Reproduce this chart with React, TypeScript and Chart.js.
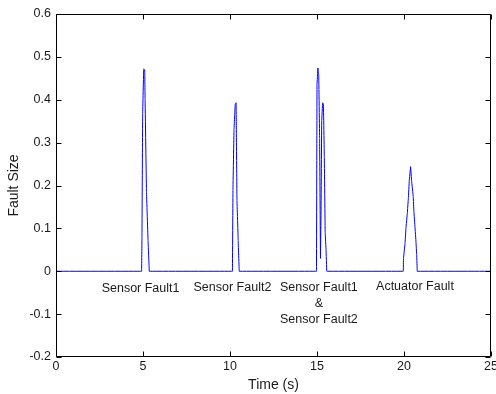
import React, { useEffect, useRef } from "react";
import { Chart, registerables } from "chart.js";

Chart.register(...registerables);

// Time axis (s) and fault size samples
const faultTimes = [
  0,
  4.92, 4.94, 4.98, 5.04, 5.1, 5.12, 5.2, 5.29, 5.36,
  10.14, 10.17, 10.23, 10.3, 10.35, 10.4, 10.47, 10.53,
  14.97, 15.0, 15.05, 15.1, 15.15, 15.2, 15.23, 15.27, 15.32, 15.37, 15.42, 15.47, 15.52, 15.56,
  19.96, 19.97, 20.06, 20.11, 20.19, 20.25, 20.3, 20.38, 20.44, 20.53, 20.57, 20.63, 20.69, 20.73, 20.76,
  25,
];
const faultSize = [
  0,
  0, 0.078, 0.368, 0.472, 0.47, 0.4, 0.184, 0.072, 0,
  0, 0.19, 0.33, 0.39, 0.393, 0.166, 0.072, 0,
  0, 0.435, 0.474, 0.458, 0.31, 0.03, 0.13, 0.35, 0.393, 0.39, 0.267, 0.09, 0.05, 0,
  0, 0.03, 0.065, 0.1, 0.135, 0.17, 0.21, 0.244, 0.21, 0.174, 0.139, 0.104, 0.068, 0.037, 0,
  0,
];

const xTicks = [0, 5, 10, 15, 20, 25];
const yTicks = [-0.2, -0.1, 0, 0.1, 0.2, 0.3, 0.4, 0.5, 0.6];

// Fault annotations: text lines and anchor (data units)
const annotationLines = [
  ["Sensor Fault1"],
  ["Sensor Fault2"],
  ["Sensor Fault1", "&", "Sensor Fault2"],
  ["Actuator Fault"],
];
const annotationX = [4.86, 10.14, 15.11, 20.63];
const annotationY = [-0.04, -0.038, -0.038, -0.035];

const FONT = "'Liberation Sans', Arial, Helvetica, sans-serif";

const framePlugin = {
  id: "matlabFrame",
  afterDraw(chart: any) {
    const { ctx, chartArea, scales } = chart;
    const { left, right, top, bottom } = chartArea;
    const xs = scales.x;
    const ys = scales.y;
    ctx.save();
    // annotations
    ctx.fillStyle = "#1a1a1a";
    ctx.font = `12.5px ${FONT}`;
    ctx.textAlign = "center";
    ctx.textBaseline = "middle";
    annotationLines.forEach((lines, i) => {
      const px = xs.getPixelForValue(annotationX[i]);
      const py = ys.getPixelForValue(annotationY[i]);
      lines.forEach((t, j) => ctx.fillText(t, px, py + j * 16));
    });
    // box
    ctx.strokeStyle = "#000";
    ctx.lineWidth = 1;
    const L = Math.round(left) + 0.5;
    const R = Math.round(right) - 0.5;
    const T = Math.round(top) + 0.5;
    const B = Math.round(bottom) - 0.5;
    ctx.beginPath();
    ctx.rect(L, T, R - L, B - T);
    // inside ticks
    const tl = 5;
    xTicks.forEach((v) => {
      const p = Math.round(xs.getPixelForValue(v)) + 0.5;
      ctx.moveTo(p, B);
      ctx.lineTo(p, B - tl);
      ctx.moveTo(p, T);
      ctx.lineTo(p, T + tl);
    });
    yTicks.forEach((v) => {
      const p = Math.round(ys.getPixelForValue(v)) + 0.5;
      ctx.moveTo(L, p);
      ctx.lineTo(L + tl, p);
      ctx.moveTo(R, p);
      ctx.lineTo(R - tl, p);
    });
    ctx.stroke();
    ctx.restore();
  },
};

export default function App() {
  const ref = useRef<HTMLCanvasElement | null>(null);
  useEffect(() => {
    document.body.style.margin = "0";
    const canvas = ref.current;
    if (!canvas) return;
    const points = faultTimes.map((t, i) => ({ x: t, y: faultSize[i] }));
    const chart = new Chart(canvas, {
      type: "line",
      data: {
        datasets: [
          {
            data: points,
            borderColor: "#0000ff",
            borderWidth: 1,
            pointRadius: 0,
            tension: 0.000001,
            fill: false,
          },
        ],
      },
      options: {
        animation: false,
        responsive: false,
        devicePixelRatio: 1,
        layout: { padding: { top: 14, right: 5, left: 0, bottom: 0 } },
        plugins: { legend: { display: false }, tooltip: { enabled: false } },
        scales: {
          x: {
            type: "linear",
            min: 0,
            max: 25,
            grid: { display: false, drawTicks: false },
            border: { display: false },
            afterBuildTicks: (s: any) => {
              s.ticks = xTicks.map((v) => ({ value: v }));
            },
            ticks: {
              color: "#1a1a1a",
              font: { family: FONT, size: 12.5 },
              padding: 2,
              maxRotation: 0,
              autoSkip: false,
            },
            title: {
              display: true,
              text: "Time (s)",
              color: "#1a1a1a",
              font: { family: FONT, size: 14 },
              padding: { top: 0, bottom: 0 },
            },
            afterFit: (s: any) => {
              s.height = 37;
              s.paddingLeft = 0;
              s.paddingRight = 0;
            },
          },
          y: {
            type: "linear",
            min: -0.2,
            max: 0.6,
            grid: { display: false, drawTicks: false },
            border: { display: false },
            afterBuildTicks: (s: any) => {
              s.ticks = yTicks.map((v) => ({ value: v }));
            },
            ticks: {
              color: "#1a1a1a",
              font: { family: FONT, size: 12.5 },
              padding: 5,
              autoSkip: false,
              callback: (v: any) => {
                const n = Math.round(Number(v) * 10) / 10;
                return n === 0 ? "0" : String(n);
              },
            },
            title: {
              display: true,
              text: "Fault Size",
              color: "#1a1a1a",
              font: { family: FONT, size: 14 },
              padding: { top: 6, bottom: 0 },
            },
            afterFit: (s: any) => {
              s.width = 56;
              s.paddingTop = 0;
              s.paddingBottom = 0;
            },
          },
        },
      },
      plugins: [framePlugin],
    });
    return () => chart.destroy();
  }, []);
  return (
    <div style={{ width: 496, height: 394, background: "#fff" }}>
      <canvas ref={ref} width={496} height={394} style={{ display: "block" }} />
    </div>
  );
}
